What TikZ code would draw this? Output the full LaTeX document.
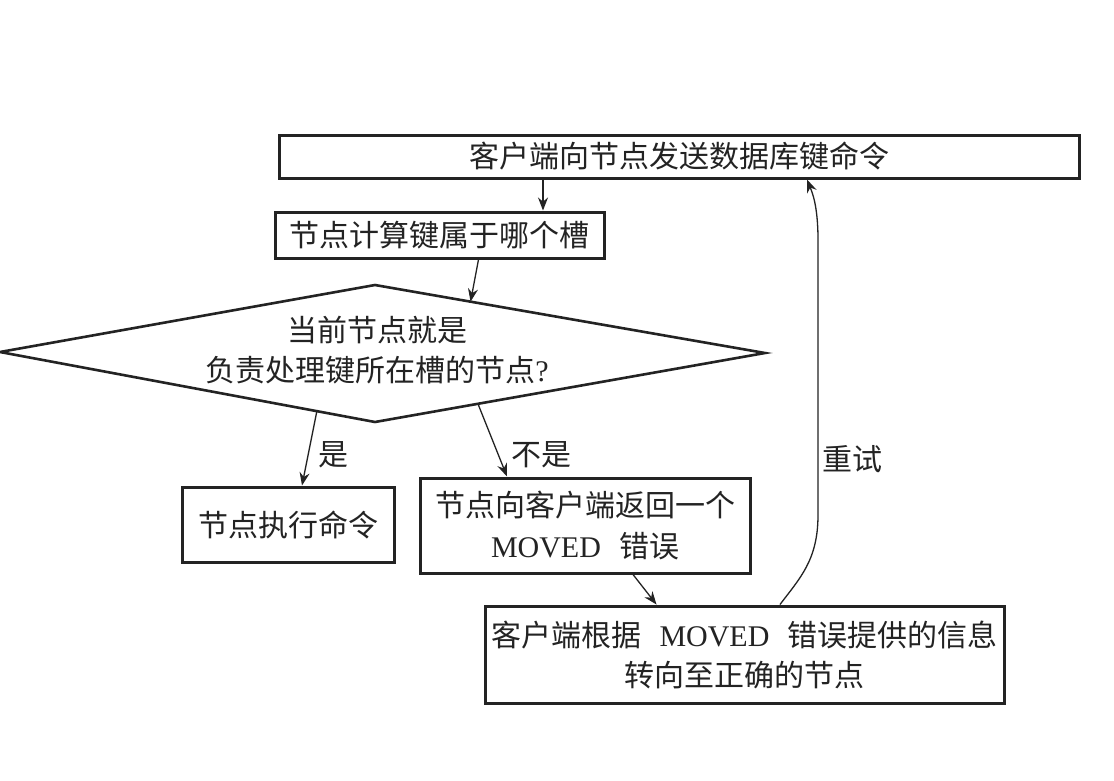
\documentclass[tikz,border=0pt]{standalone}
\usepackage{fontspec}
\setmainfont{Liberation Serif}
\newfontfamily\cjk{Noto Sans CJK SC}
\usetikzlibrary{arrows.meta,calc}
\definecolor{ink}{HTML}{232323}
\begin{document}
\begin{tikzpicture}[x=1pt,y=-1pt,
  txt/.style={font=\cjk\fontsize{30}{40}\selectfont,text=ink,align=center,inner sep=0pt},
  box/.style={txt,draw=ink,line width=3pt},
  arr/.style={draw=ink,line width=1.3pt,-{Stealth[length=13pt,width=10pt]}}]
\fill[white] (0,0) rectangle (1114,780);
\useasboundingbox (0,0) rectangle (1114,780);
% boxes
\node[box,minimum width=800pt,minimum height=43pt] (top) at (679,156.5) {客户端向节点发送数据库键命令};
\node[box,minimum width=329pt,minimum height=46pt] (calc) at (439.5,235) {节点计算键属于哪个槽};
\node[box,minimum width=212pt,minimum height=75pt] (exec) at (288,524.5) {节点执行命令};
\node[box,minimum width=330pt,minimum height=95pt] (moved) at (585,525.5) {节点向客户端返回一个\\{\rmfamily MOVED}\hspace{0.6em}错误};
\node[box,minimum width=519pt,minimum height=97pt] (redir) at (744.5,654.5) {客户端根据\hspace{0.6em}{\rmfamily MOVED}\hspace{0.6em}错误提供的信息\\转向至正确的节点};
% diamond
\coordinate (dW) at (0,352);
\coordinate (dN) at (375,285);
\coordinate (dE) at (765,353);
\coordinate (dS) at (375,422);
\draw[ink,line width=2.6pt,line join=miter] (dW) -- (dN) -- (dE) -- (dS) -- cycle;
\node[txt] (q) at (377,350) {当前节点就是\\负责处理键所在槽的节点{\rmfamily ?}};
% connectors
\draw[arr] ([xshift=-136pt]top.south) -- ([xshift=-136pt]top.south |- calc.north);
\draw[arr] ([xshift=39pt]calc.south) -- ($(dN)!0.245!(dE)$);
\draw[arr] ($(dW)!0.845!(dS)$) -- ([xshift=14pt]exec.north);
\draw[arr] ($(dS)!0.264!(dE)$) -- ([xshift=-78pt]moved.north);
\draw[arr] ([xshift=48pt]moved.south) -- ([xshift=-88pt]redir.north);
\draw[arr] ([xshift=35.5pt]redir.north) .. controls (800,578) and (818,560) .. (818,515) -- (818,240) .. controls (818,205) and (812,192) .. ([xshift=128pt]top.south);
% labels
\node[txt] (yes) at (333,455) {是};
\node[txt] (no) at (541,455) {不是};
\node[txt] (retry) at (852,459) {重试};
\end{tikzpicture}
\end{document}
